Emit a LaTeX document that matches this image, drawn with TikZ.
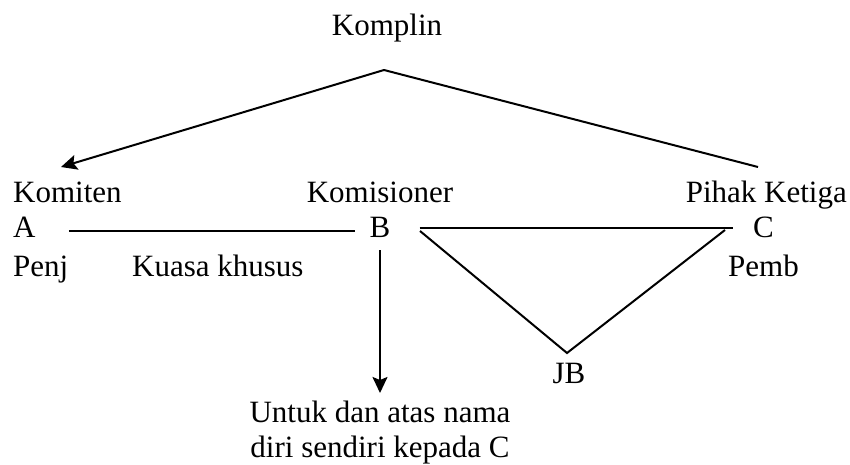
\documentclass[tikz,border=0pt]{standalone}
\usepackage{fontspec}
\setmainfont{Liberation Serif}
\usetikzlibrary{arrows.meta}

\begin{document}
\begin{tikzpicture}[x=1pt,y=-1pt,
  lbl/.style={inner sep=0pt,font=\fontsize{31}{35}\selectfont},
  link/.style={line width=2pt},
  tip/.style={-{Stealth[length=16pt,width=15pt,inset=3pt]}}]
% Define common parameters
\useasboundingbox (0,0) rectangle (850,465);

% Top: Komplin
\node[lbl,anchor=base] (komplin) at (387,36) {Komplin};
\coordinate (apex) at (384,70);
\coordinate (leftend) at (61,167);
\coordinate (rightend) at (758,167);
\draw[link,tip] (apex) -- (leftend);
\draw[link] (apex) -- (rightend);

% Row of parties
\node[lbl,anchor=base west] (komiten) at (13,202) {Komiten};
\node[lbl,anchor=base] (komisioner) at (380,202) {Komisioner};
\node[lbl,anchor=base east] (pihak) at (847,202) {Pihak Ketiga};

\node[lbl,anchor=base west] (A) at (13,237) {A};
\node[lbl,anchor=base] (B) at (380,237) {B};
\node[lbl,anchor=base west] (C) at (753,237) {C};

\node[lbl,anchor=base west] (penj) at (13,276) {Penj};
\node[lbl,anchor=base west] (kuasa) at (132,276) {Kuasa khusus};
\node[lbl,anchor=base west] (pemb) at (728,276) {Pemb};

% A -- B and B -- C
\draw[link] ([xshift=33pt,yshift=6pt]A.base east) -- ([xshift=-14pt,yshift=6pt]B.base west);
\draw[link] ([xshift=29pt,yshift=9pt]B.base east) -- ([xshift=-20pt,yshift=9pt]C.base west);

% Triangle to JB
\node[lbl,anchor=base] (JB) at (569,383) {JB};
\coordinate (jbtop) at (567,353);
\draw[link] (420,231) -- (jbtop) -- (725,230);

% Down arrow from B
\node[lbl,anchor=north,align=center] (untuk) at (380,401)
  {Untuk dan atas nama\\diri sendiri kepada C};
\draw[link,tip] ([yshift=-13pt]B.south) -- ([yshift=8pt]untuk.north -| B.south);

\end{tikzpicture}
\end{document}
